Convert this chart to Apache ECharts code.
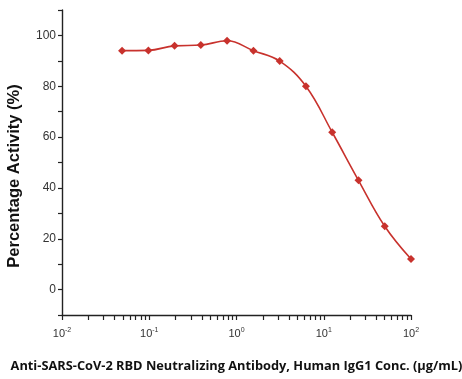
<!DOCTYPE html>
<html>
<head>
<meta charset="utf-8">
<script src="https://cdn.jsdelivr.net/npm/echarts@6/dist/echarts.min.js"></script>
<style>
  html, body { margin: 0; padding: 0; background: #fff; }
  #chart { width: 462px; height: 379px; }
</style>
</head>
<body>
<div id="chart"></div>
<script>
// concentrations (ug/mL) and measured activity (%)
const conc = [0.0488, 0.0977, 0.195, 0.39, 0.78, 1.5625, 3.125, 6.25, 12.5, 25, 50, 100];
const activity = [94.0, 94.1, 95.9, 96.2, 97.9, 94.0, 89.9, 80.0, 61.9, 43.0, 24.9, 12.0];
const decades = [0.01, 0.1, 1, 10, 100];

// log axis ticks at 1..9 of every decade
const xTicks = [];
decades.forEach((d, i) => {
  if (i === decades.length - 1) { xTicks.push(d); return; }
  for (let m = 1; m <= 9; m++) xTicks.push(+(m * d).toPrecision(3));
});

const supers = { '0.01': '-2', '0.1': '-1', '1': '0', '10': '1', '100': '2' };
const red = '#c8322d';

const chart = echarts.init(document.getElementById('chart'));

chart.setOption({
  animation: false,
  grid: { left: 62, right: 51, top: 10, bottom: 64, containLabel: false, outerBoundsMode: 'none' },
  xAxis: {
    type: 'log',
    logBase: 10,
    min: 0.01,
    max: 100,
    name: 'Anti-SARS-CoV-2 RBD Neutralizing Antibody, Human IgG1 Conc. (\u03bcg/mL)',
    nameLocation: 'middle',
    nameGap: 45,
    nameTextStyle: { fontFamily: 'Open Sans', fontWeight: 'bold', fontSize: 12.8, color: '#111' },
    axisLine: { onZero: false, lineStyle: { color: '#222', width: 1.4 } },
    axisTick: { show: true, length: 5, customValues: xTicks, lineStyle: { color: '#222', width: 1.2 } },
    axisLabel: {
      customValues: decades,
      margin: 12,
      formatter: v => '{b|10}{s|' + supers[String(+v.toPrecision(3))] + '}',
      rich: {
        b: { fontFamily: 'Liberation Sans', fontSize: 11, color: '#333' },
        s: { fontFamily: 'Liberation Sans', fontSize: 7, color: '#333', verticalAlign: 'top', padding: [0, 0, 6, 0] }
      }
    },
    splitLine: { show: false }
  },
  yAxis: {
    type: 'value',
    min: -10,
    max: 110,
    interval: 10,
    name: 'Percentage Activity (%)',
    nameLocation: 'middle',
    nameGap: 39,
    nameTextStyle: { fontFamily: 'Liberation Sans', fontWeight: 'bold', fontSize: 16.5, color: '#111', padding: [0, 27, 0, 0] },
    axisLine: { show: true, lineStyle: { color: '#222', width: 1.4 } },
    axisTick: { show: true, length: 4, lineStyle: { color: '#222', width: 1.2 } },
    axisLabel: {
      margin: 6,
      fontFamily: 'Liberation Sans',
      fontSize: 12,
      color: '#333',
      formatter: v => (v >= 0 && v <= 100 && v % 20 === 0) ? String(v) : ''
    },
    splitLine: { show: false }
  },
  series: [{
    type: 'line',
    data: conc.map((c, i) => [c, activity[i]]),
    smooth: 0.4,
    symbol: 'diamond',
    symbolSize: 8,
    lineStyle: { color: red, width: 1.6 },
    itemStyle: { color: red }
  }]
});
</script>
</body>
</html>
